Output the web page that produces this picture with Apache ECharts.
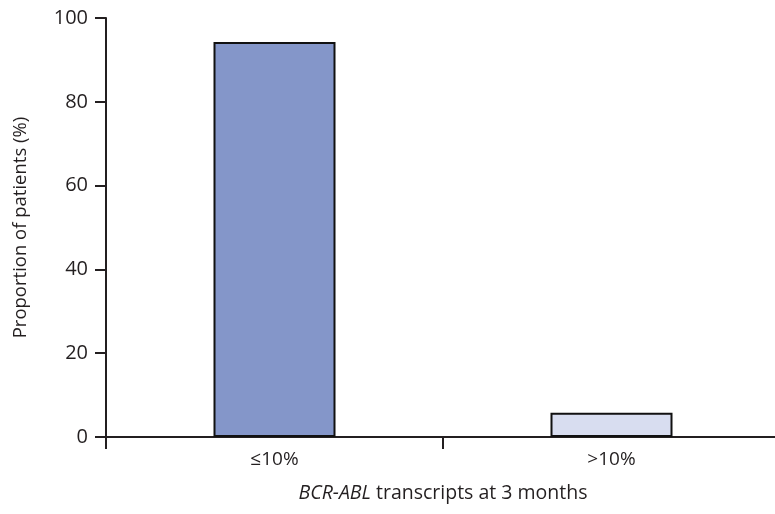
<!DOCTYPE html>
<html><head><meta charset="utf-8">
<script src="https://cdn.jsdelivr.net/npm/echarts@6/dist/echarts.min.js"></script>
<style>html,body{margin:0;padding:0;background:#fff}#c{width:775px;height:514px}</style>
</head><body><div id="c"></div>
<script>
const categories = ['≤10%', '>10%'];
const values = [94.3, 5.8];
const yTicks = [0, 20, 40, 60, 80, 100];
const barColors = ['#8496c9', '#d8ddf0'];

const chart = echarts.init(document.getElementById('c'));
const txt = '#231f20';
const font = 'Open Sans';
chart.setOption({
  animation: false,
  grid: { left: 106, width: 674, top: 18, height: 419, containLabel: false, outerBoundsMode: 'none' },
  xAxis: {
    type: 'category',
    data: categories,
    boundaryGap: true,
    axisLine: { lineStyle: { color: txt, width: 2 } },
    axisTick: { show: true, length: 12, lineStyle: { color: txt, width: 2 } },
    axisLabel: { color: txt, fontSize: 19, fontFamily: font, margin: 13 },
    name: '{i|BCR-ABL} transcripts at 3 months',
    nameLocation: 'middle',
    nameGap: 46,
    nameTextStyle: {
      color: txt, fontSize: 19.5, fontFamily: font,
      rich: { i: { fontStyle: 'italic', color: txt, fontSize: 19.5, fontFamily: font } }
    }
  },
  yAxis: {
    type: 'value',
    min: yTicks[0], max: yTicks[yTicks.length - 1], interval: 20,
    axisLine: { show: true, lineStyle: { color: txt, width: 2 } },
    axisTick: { show: true, length: 11, lineStyle: { color: txt, width: 2 } },
    axisLabel: { color: txt, fontSize: 20, fontFamily: font, margin: 18 },
    splitLine: { show: false },
    name: 'Proportion of patients (%)',
    nameLocation: 'middle',
    nameGap: 76,
    nameTextStyle: { color: txt, fontSize: 18.5, fontFamily: font }
  },
  series: [{
    type: 'bar',
    barWidth: 122,
    data: values.map((v, i) => ({ value: v, itemStyle: { color: barColors[i] } })),
    itemStyle: { borderColor: '#111', borderWidth: 2 }
  }]
});
</script></body></html>
